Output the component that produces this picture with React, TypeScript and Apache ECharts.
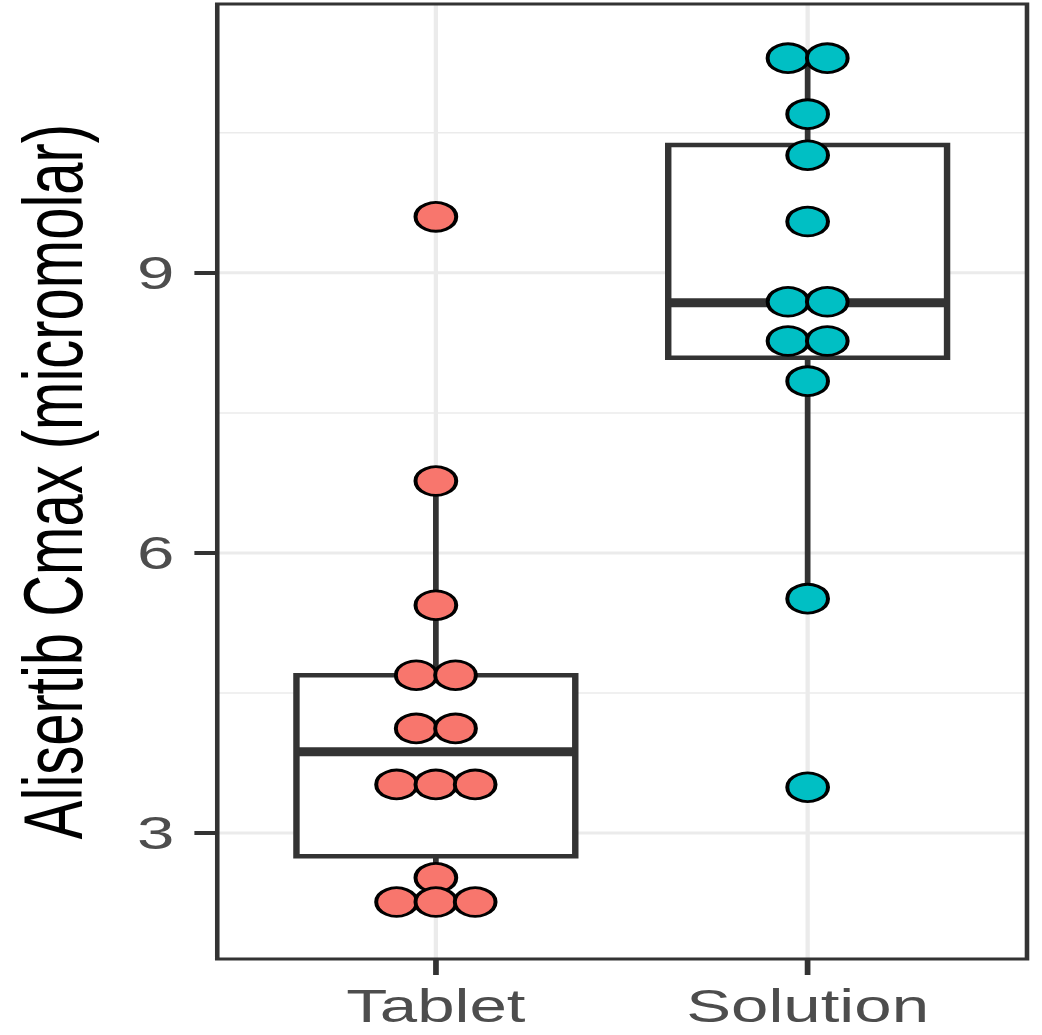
import React, { useEffect, useRef } from "react";
import * as echarts from "echarts";

const categories = ["Tablet", "Solution"];
const tabletValues = [9.6, 6.77, 5.44, 4.69, 4.69, 4.12, 4.12, 3.52, 3.52, 3.52, 2.52, 2.26, 2.26, 2.26];
const solutionValues = [11.3, 11.3, 10.7, 10.26, 9.55, 8.69, 8.69, 8.27, 8.27, 7.84, 5.51, 3.49];
// [lower whisker, Q1, median, Q3, upper whisker]
const tabletBox = [2.26, 2.75, 3.87, 4.69, 6.77];
const solutionBox = [5.51, 8.09, 8.68, 10.37, 11.3];
const yMajorTicks = [3, 6, 9];
const yMinorTicks = [4.5, 7.5, 10.5];
const xCenters = [1, 2];
const groupColors = ["#F8766D", "#00BFC4"];

const STRETCH = 1042 / 729;
const DOT_STEP = 0.1057;
const BOX_HALF = 0.375;
const FONT = "'Liberation Sans', Arial, Helvetica, sans-serif";

function stackDots(values: number[], xCenter: number): number[][] {
  const counts = new Map<number, number>();
  values.forEach((v) => counts.set(v, (counts.get(v) || 0) + 1));
  const seen = new Map<number, number>();
  return values.map((v) => {
    const n = counts.get(v) || 1;
    const i = seen.get(v) || 0;
    seen.set(v, i + 1);
    return [xCenter + (i - (n - 1) / 2) * DOT_STEP, v];
  });
}

export default function App() {
  const ref = useRef<HTMLDivElement>(null);

  useEffect(() => {
    if (!ref.current) return;
    const chart = echarts.init(ref.current, null, { renderer: "svg" });

    const boxData = [
      [xCenters[0], ...tabletBox],
      [xCenters[1], ...solutionBox],
    ];

    // grid line items: [x, y, kind(0 = horizontal, 1 = vertical), width]
    const gridData = [
      ...yMajorTicks.map((v) => [1.5, v, 0, 3]),
      ...yMinorTicks.map((v) => [1.5, v, 0, 1.5]),
      ...xCenters.map((v) => [v, 6, 1, 3]),
    ];

    const option: any = {
      animation: false,
      backgroundColor: "#FFFFFF",
      grid: {
        left: 149.5,
        top: 4,
        width: 569,
        height: 955,
        show: true,
        borderColor: "#333333",
        borderWidth: 3.2,
        backgroundColor: "transparent",
        z: 5,
      },
      xAxis: {
        type: "value",
        min: 0.412,
        max: 2.59,
        axisLine: { show: false },
        splitLine: { show: false },
        axisTick: {
          show: true,
          customValues: xCenters,
          length: 16,
          lineStyle: { color: "#333333", width: 4 },
        },
        axisLabel: {
          show: true,
          customValues: xCenters,
          formatter: (v: number) => categories[Math.round(v) - 1] ?? "",
          fontSize: 47,
          fontFamily: FONT,
          color: "#4D4D4D",
          margin: 23,
        },
      },
      yAxis: {
        type: "value",
        min: 1.65,
        max: 11.88,
        name: "Alisertib Cmax (micromolar)",
        nameLocation: "middle",
        nameGap: 86,
        nameTextStyle: { fontSize: 58, fontFamily: FONT, color: "#000000" },
        axisLine: { show: false },
        splitLine: { show: false },
        axisTick: {
          show: true,
          customValues: yMajorTicks,
          length: 16,
          lineStyle: { color: "#333333", width: 4 },
        },
        axisLabel: {
          show: true,
          customValues: yMajorTicks,
          fontSize: 47,
          fontFamily: FONT,
          color: "#4D4D4D",
          margin: 30,
        },
      },
      series: [
        {
          type: "custom",
          z: 0,
          silent: true,
          clip: true,
          data: gridData,
          encode: { x: 0, y: 1 },
          renderItem: (params: any, api: any) => {
            const cs = params.coordSys;
            const kind = api.value(2);
            const w = api.value(3);
            const p = api.coord([api.value(0), api.value(1)]);
            const shape =
              kind === 0
                ? { x1: cs.x, y1: p[1], x2: cs.x + cs.width, y2: p[1] }
                : { x1: p[0], y1: cs.y, x2: p[0], y2: cs.y + cs.height };
            return { type: "line", shape, style: { stroke: "#EBEBEB", lineWidth: w } };
          },
        },
        {
          type: "custom",
          z: 2,
          silent: true,
          data: boxData,
          encode: { x: 0, y: [1, 2, 3, 4, 5] },
          renderItem: (params: any, api: any) => {
            const x = api.value(0);
            const lo = api.value(1);
            const q1 = api.value(2);
            const med = api.value(3);
            const q3 = api.value(4);
            const hi = api.value(5);
            const pHi = api.coord([x, hi]);
            const pQ3 = api.coord([x, q3]);
            const pQ1 = api.coord([x, q1]);
            const pLo = api.coord([x, lo]);
            const tl = api.coord([x - BOX_HALF, q3]);
            const br = api.coord([x + BOX_HALF, q1]);
            const m1 = api.coord([x - BOX_HALF, med]);
            const m2 = api.coord([x + BOX_HALF, med]);
            const stroke = "#333333";
            return {
              type: "group",
              children: [
                { type: "line", shape: { x1: pHi[0], y1: pHi[1], x2: pQ3[0], y2: pQ3[1] }, style: { stroke, lineWidth: 4 } },
                { type: "line", shape: { x1: pQ1[0], y1: pQ1[1], x2: pLo[0], y2: pLo[1] }, style: { stroke, lineWidth: 4 } },
                {
                  type: "rect",
                  shape: { x: tl[0], y: tl[1], width: br[0] - tl[0], height: br[1] - tl[1] },
                  style: { fill: "#FFFFFF", stroke, lineWidth: 4.5 },
                },
                { type: "line", shape: { x1: m1[0], y1: m1[1], x2: m2[0], y2: m2[1] }, style: { stroke, lineWidth: 9 } },
              ],
            };
          },
        },
        {
          type: "scatter",
          name: categories[0],
          z: 3,
          symbol: "circle",
          symbolSize: 28.5,
          data: stackDots(tabletValues, xCenters[0]),
          itemStyle: { color: groupColors[0], borderColor: "#000000", borderWidth: 2.8, opacity: 1 },
        },
        {
          type: "scatter",
          name: categories[1],
          z: 3,
          symbol: "circle",
          symbolSize: 28.5,
          data: stackDots(solutionValues, xCenters[1]),
          itemStyle: { color: groupColors[1], borderColor: "#000000", borderWidth: 2.8, opacity: 1 },
        },
      ],
    };

    chart.setOption(option);
    return () => chart.dispose();
  }, []);

  return (
    <div
      ref={ref}
      style={{
        position: "absolute",
        left: 0,
        top: 0,
        width: 729,
        height: 1035,
        transform: `scaleX(${STRETCH})`,
        transformOrigin: "0 0",
        background: "#FFFFFF",
      }}
    />
  );
}
